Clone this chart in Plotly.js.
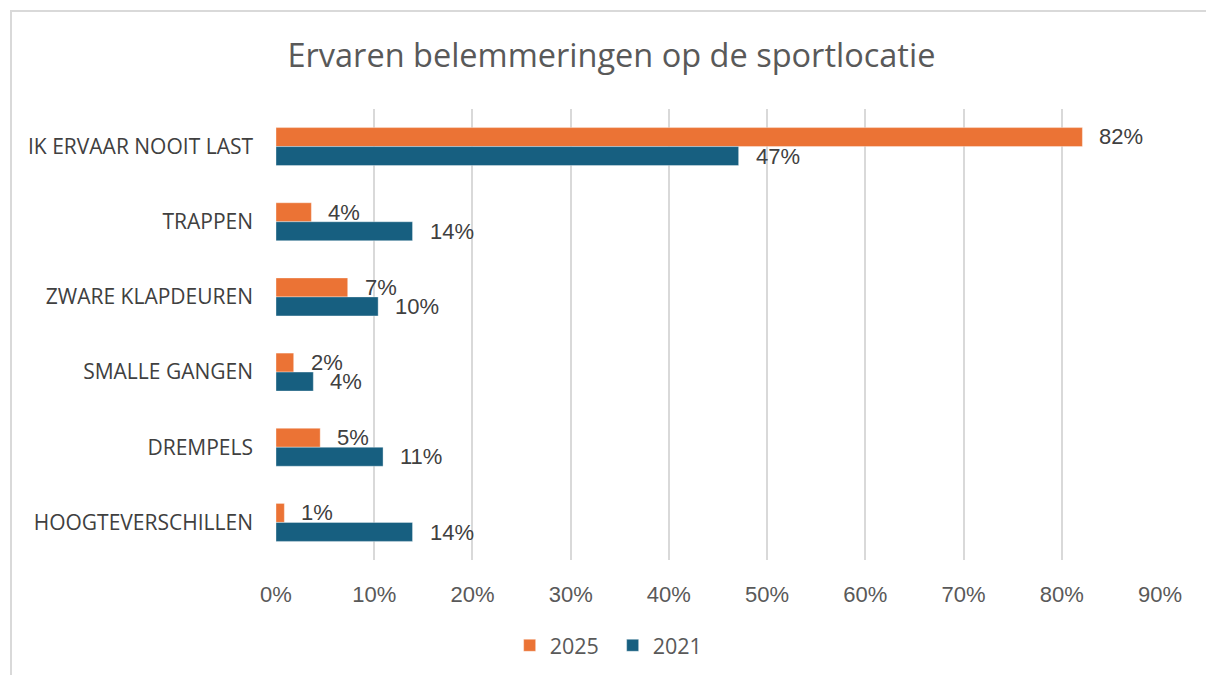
<!DOCTYPE html>
<html>
<head>
<meta charset="utf-8">
<script src="https://cdn.plot.ly/plotly-3.0.1.min.js"></script>
<style>
html,body{margin:0;padding:0;background:#fff;}
#wrap{position:relative;width:1206px;height:675px;overflow:hidden;}
#frame{position:absolute;left:10px;top:10px;width:1300px;height:800px;border-left:2px solid #d9d9d9;border-top:2px solid #d9d9d9;pointer-events:none;z-index:5;}
#chart{position:absolute;left:0;top:0;width:1206px;height:675px;}
</style>
</head>
<body>
<div id="wrap"><div id="chart"></div><div id="frame"></div></div>
<script>
var categories = ["IK ERVAAR NOOIT LAST","TRAPPEN","ZWARE KLAPDEUREN","SMALLE GANGEN","DREMPELS","HOOGTEVERSCHILLEN"];
var values2025 = [0.821, 0.036, 0.073, 0.018, 0.045, 0.0085];
var values2021 = [0.471, 0.139, 0.104, 0.038, 0.109, 0.139];
var labels2025 = ["82%","4%","7%","2%","5%","1%"];
var labels2021 = ["47%","14%","10%","4%","11%","14%"];
var xTicks = [0,0.1,0.2,0.3,0.4,0.5,0.6,0.7,0.8,0.9];
var xTickText = ["0%","10%","20%","30%","40%","50%","60%","70%","80%","90%"];

var cOrange = "#EB7335";
var cBlue = "#175F80";

var traces = [
  {type:"bar", orientation:"h", name:"2025", y:categories, x:values2025,
   marker:{color:cOrange, line:{color:"rgba(255,255,255,0.6)", width:0.6}}, hoverinfo:"x"},
  {type:"bar", orientation:"h", name:"2021", y:categories, x:values2021,
   marker:{color:cBlue, line:{color:"rgba(255,255,255,0.6)", width:0.6}}, hoverinfo:"x"}
];

var annotations = [];
var lblFont = {family:"Liberation Sans, Arial, sans-serif", size:22, color:"#404040"};
for (var i=0;i<categories.length;i++){
  annotations.push({x:values2025[i], y:categories[i], xref:"x", yref:"y", text:labels2025[i],
    showarrow:false, xanchor:"left", yanchor:"middle", xshift:15, yshift:9.7, font:lblFont});
  annotations.push({x:values2021[i], y:categories[i], xref:"x", yref:"y", text:labels2021[i],
    showarrow:false, xanchor:"left", yanchor:"middle", xshift:15, yshift:-9.7, font:lblFont});
}

var layout = {
  width:1206, height:675,
  paper_bgcolor:"#ffffff", plot_bgcolor:"#ffffff",
  margin:{l:276, r:46, t:109, b:115},
  title:{text:"Ervaren belemmeringen op de sportlocatie", x:0.507, xanchor:"center", y:0.918, yanchor:"middle",
    font:{family:"Open Sans, sans-serif", size:32.5, color:"#595959"}},
  barmode:"group", bargap:0.495, bargroupgap:0,
  xaxis:{range:[0,0.9], tickvals:xTicks, ticktext:xTickText, showgrid:true, gridcolor:"#d9d9d9", gridwidth:2,
    zeroline:false, showline:false, ticks:"", ticklabelstandoff:19,
    tickfont:{family:"Liberation Sans, Arial, sans-serif", size:22, color:"#595959"}, fixedrange:true},
  yaxis:{autorange:"reversed", showgrid:false, zeroline:false, showline:false, ticks:"", ticklabelstandoff:22,
    tickfont:{family:"Open Sans, sans-serif", size:21, color:"#404040"}, fixedrange:true},
  showlegend:true,
  legend:{orientation:"h", x:0.508, xref:"container", xanchor:"center", y:0.044, yref:"container", yanchor:"middle",
    font:{family:"Open Sans, sans-serif", size:21.5, color:"#595959"}, itemwidth:30, entrywidth:58, traceorder:"normal"},
  annotations:annotations
};

Plotly.newPlot("chart", traces, layout, {displayModeBar:false, staticPlot:true});
</script>
</body>
</html>
